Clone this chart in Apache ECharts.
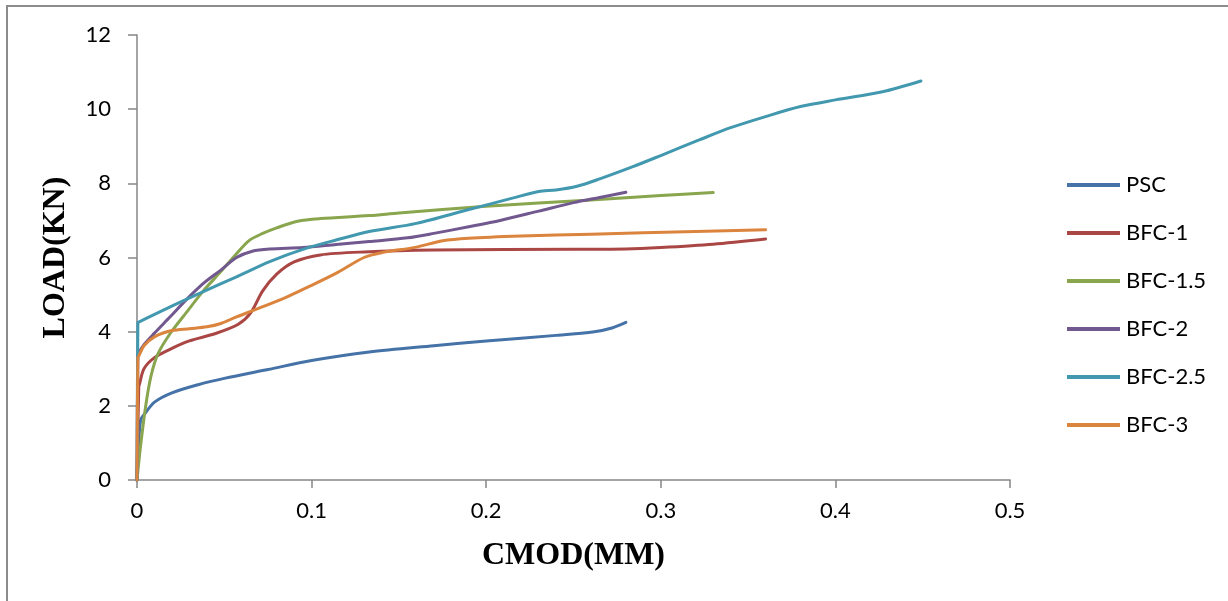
<!DOCTYPE html>
<html>
<head>
<meta charset="utf-8">
<title>Load vs CMOD</title>
<script src="https://cdn.jsdelivr.net/npm/echarts@6/dist/echarts.min.js"></script>
<style>
  html, body { margin: 0; padding: 0; background: #ffffff; }
  #chart { width: 1228px; height: 601px; }
</style>
</head>
<body>
<div id="chart"></div>
<script>
// Load (kN) against crack mouth opening displacement (mm), pairs of [CMOD, LOAD]
const seriesNames = ['PSC', 'BFC-1', 'BFC-1.5', 'BFC-2', 'BFC-2.5', 'BFC-3'];
const seriesColors = ['#4572A7', '#AA4643', '#89A54E', '#71588F', '#4198AF', '#DB843D'];

const PSC = [[0,0],[0.002,1.6],[0.005,1.82],[0.01,2.1],[0.02,2.35],[0.035,2.57],[0.05,2.74],
  [0.075,2.98],[0.1,3.22],[0.133,3.45],[0.17,3.62],[0.2,3.75],[0.24,3.9],[0.262,4.0],
  [0.272,4.1],[0.28,4.25]];
const BFC_1 = [[0,0],[0.001,2.5],[0.0015,2.6],[0.004,3.0],[0.01,3.3],[0.02,3.55],[0.03,3.75],[0.045,3.95],
  [0.058,4.2],[0.065,4.5],[0.072,5.1],[0.08,5.55],[0.09,5.88],[0.105,6.07],[0.13,6.15],
  [0.17,6.2],[0.25,6.22],[0.28,6.23],[0.3,6.27],[0.33,6.36],[0.36,6.5]];
const BFC_1_5 = [[0,0],[0.002,0.9],[0.005,2.0],[0.008,2.8],[0.012,3.4],[0.019,3.95],[0.028,4.5],
  [0.038,5.1],[0.048,5.62],[0.057,6.1],[0.064,6.45],[0.072,6.65],[0.08,6.8],[0.092,6.98],
  [0.105,7.05],[0.133,7.13],[0.15,7.2],[0.2,7.38],[0.26,7.55],[0.3,7.67],[0.33,7.75]];
const BFC_2 = [[0,0],[0.0005,3.4],[0.001,3.43],[0.004,3.65],[0.01,3.96],[0.019,4.4],[0.028,4.85],[0.038,5.3],
  [0.048,5.66],[0.057,6.0],[0.066,6.17],[0.076,6.23],[0.095,6.27],[0.114,6.35],[0.133,6.43],
  [0.155,6.53],[0.17,6.65],[0.19,6.83],[0.208,7.0],[0.23,7.25],[0.25,7.48],[0.265,7.62],[0.28,7.76]];
const BFC_2_5 = [[0,0],[0.0005,4.25],[0.001,4.26],[0.019,4.67],[0.038,5.08],[0.057,5.48],[0.076,5.89],
  [0.095,6.22],[0.114,6.47],[0.133,6.7],[0.16,6.92],[0.189,7.28],[0.215,7.6],[0.23,7.78],
  [0.24,7.82],[0.252,7.92],[0.265,8.12],[0.284,8.45],[0.3,8.75],[0.322,9.17],[0.34,9.5],
  [0.36,9.8],[0.38,10.07],[0.4,10.25],[0.427,10.47],[0.449,10.76]];
const BFC_3 = [[0,0],[0.0005,3.3],[0.001,3.34],[0.004,3.62],[0.01,3.86],[0.02,4.03],[0.03,4.08],[0.04,4.13],
  [0.048,4.22],[0.057,4.4],[0.067,4.58],[0.086,4.94],[0.1,5.25],[0.115,5.6],[0.13,6.0],
  [0.14,6.13],[0.16,6.28],[0.175,6.45],[0.19,6.52],[0.22,6.58],[0.26,6.63],[0.32,6.7],[0.36,6.75]];

const seriesData = [PSC, BFC_1, BFC_1_5, BFC_2, BFC_2_5, BFC_3];

const xTicks = { min: 0, max: 0.5, interval: 0.1 };
const yTicks = { min: 0, max: 12, interval: 2 };

const labelFont = 'Lato, "Open Sans", sans-serif';
const titleFont = '"Liberation Serif", "Times New Roman", serif';
const axisGrey = '#868686';

const chart = echarts.init(document.getElementById('chart'), null, { renderer: 'canvas' });

chart.setOption({
  backgroundColor: '#ffffff',
  animation: false,
  color: seriesColors,
  graphic: [{
    type: 'rect',
    silent: true,
    shape: { x: 7, y: 6, width: 1400, height: 800 },
    style: { fill: 'none', stroke: '#8c8c8c', lineWidth: 2 }
  }],
  grid: { left: 137, right: 218, top: 35, bottom: 121, containLabel: false },
  legend: {
    orient: 'vertical',
    left: 1067,
    top: 173,
    padding: 0,
    itemWidth: 53,
    itemHeight: 4,
    itemGap: 24,
    icon: 'rect',
    textStyle: { fontFamily: labelFont, fontSize: 22, color: '#000', lineHeight: 24, padding: [0, 0, 0, 1] },
    data: seriesNames
  },
  xAxis: {
    type: 'value',
    min: xTicks.min, max: xTicks.max, interval: xTicks.interval,
    name: 'CMOD(MM)',
    nameLocation: 'middle',
    nameGap: 60,
    nameTextStyle: { fontFamily: titleFont, fontWeight: 'bold', fontSize: 32, color: '#000' },
    axisLine: { show: true, lineStyle: { color: axisGrey, width: 1.5 } },
    axisTick: { show: true, length: 8, inside: false, lineStyle: { color: axisGrey, width: 1.5 } },
    axisLabel: { margin: 20, fontFamily: labelFont, fontSize: 22, color: '#000' },
    splitLine: { show: false }
  },
  yAxis: {
    type: 'value',
    min: yTicks.min, max: yTicks.max, interval: yTicks.interval,
    name: 'LOAD(KN)',
    nameLocation: 'middle',
    nameGap: 65,
    nameRotate: 90,
    nameTextStyle: { fontFamily: titleFont, fontWeight: 'bold', fontSize: 32, color: '#000' },
    axisLine: { show: true, lineStyle: { color: axisGrey, width: 1.5 } },
    axisTick: { show: true, length: 9, inside: false, lineStyle: { color: axisGrey, width: 1.5 } },
    axisLabel: { margin: 26, fontFamily: labelFont, fontSize: 22, color: '#000' },
    splitLine: { show: false }
  },
  series: seriesNames.map((name, i) => ({
    name: name,
    type: 'line',
    data: seriesData[i],
    showSymbol: false,
    symbol: 'none',
    smooth: 0.3,
    lineStyle: { width: 3, color: seriesColors[i], cap: 'round', join: 'round' },
    itemStyle: { color: seriesColors[i] }
  }))
});
</script>
</body>
</html>
